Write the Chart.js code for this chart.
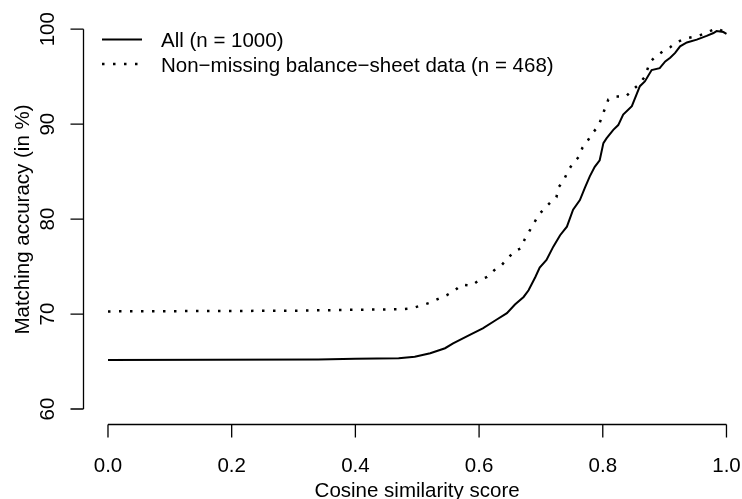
<!DOCTYPE html>
<html>
<head>
<meta charset="utf-8">
<script src="https://cdn.jsdelivr.net/npm/chart.js@4/dist/chart.umd.min.js"></script>
<style>
  html, body { margin: 0; padding: 0; background: #fff; }
  #wrap { width: 742px; height: 499px; }
</style>
</head>
<body>
<div id="wrap"><canvas id="myChart" width="742" height="499"></canvas></div>
<script>
// values
const allX = [0, 0.34, 0.40, 0.47, 0.496, 0.521, 0.545, 0.558, 0.585, 0.606, 0.628, 0.645, 0.658, 0.672, 0.680, 0.691, 0.698, 0.709, 0.720, 0.731, 0.742, 0.752, 0.763, 0.771, 0.779, 0.787, 0.795, 0.801, 0.806, 0.817, 0.825, 0.833, 0.847, 0.860, 0.868, 0.879, 0.892, 0.901, 0.909, 0.917, 0.925, 0.936, 0.952, 0.968, 0.979, 0.984, 0.995, 1.0];
const allY = [65.17, 65.22, 65.28, 65.34, 65.5, 65.87, 66.4, 66.9, 67.8, 68.5, 69.4, 70.1, 71.0, 71.8, 72.5, 73.9, 74.9, 75.7, 77.1, 78.3, 79.2, 81.0, 82.0, 83.3, 84.5, 85.5, 86.2, 88.0, 88.5, 89.4, 89.9, 91.0, 91.9, 94.0, 94.5, 95.7, 95.9, 96.6, 97.0, 97.5, 98.2, 98.6, 98.9, 99.3, 99.6, 99.8, 99.7, 99.5];

const nmX = [0, 0.30, 0.40, 0.472, 0.491, 0.506, 0.521, 0.534, 0.548, 0.561, 0.572, 0.588, 0.601, 0.613, 0.626, 0.637, 0.647, 0.657, 0.667, 0.674, 0.682, 0.689, 0.697, 0.707, 0.716, 0.725, 0.729, 0.737, 0.744, 0.752, 0.762, 0.767, 0.776, 0.784, 0.793, 0.809, 0.820, 0.837, 0.848, 0.857, 0.867, 0.877, 0.887, 0.898, 0.909, 0.919, 0.933, 0.955, 0.984, 1.0];
const nmY = [70.28, 70.35, 70.45, 70.5, 70.6, 70.9, 71.2, 71.6, 72.0, 72.5, 73.1, 73.0, 73.6, 73.9, 74.7, 75.2, 75.9, 76.6, 76.9, 77.9, 78.8, 79.6, 80.5, 81.2, 81.8, 82.3, 83.4, 84.1, 85.1, 85.9, 86.6, 87.5, 88.3, 89.1, 89.8, 92.6, 92.9, 92.9, 93.6, 94.1, 94.9, 96.6, 97.2, 97.7, 98.1, 98.6, 99.0, 99.3, 100.1, 99.6];

const seriesLabels = ['All (n = 1000)', 'Non\u2212missing balance\u2212sheet data (n = 468)'];
const xTicks = [0, 0.2, 0.4, 0.6, 0.8, 1.0];
const yTicks = [60, 70, 80, 90, 100];
const xTitle = 'Cosine similarity score';
const yTitle = 'Matching accuracy (in %)';

const FONT = '20.5px "Liberation Sans", Arial, sans-serif';
const DOTS = [2.5, 8.5];

function toPoints(xs, ys) {
    return xs.map((x, i) => ({ x: x, y: ys[i] }));
}

// R-style axes and legend, drawn through the chart's scales
const rAxes = {
    id: 'rAxes',
    afterDraw(chart) {
        const ctx = chart.ctx;
        const xs = chart.scales.x, ys = chart.scales.y;
        const area = chart.chartArea;
        ctx.save();
        ctx.strokeStyle = '#000';
        ctx.fillStyle = '#000';
        ctx.lineWidth = 1.3;
        ctx.font = FONT;

        // x axis
        const ay = area.bottom - 0.5;
        ctx.beginPath();
        ctx.moveTo(xs.getPixelForValue(xTicks[0]), ay);
        ctx.lineTo(xs.getPixelForValue(xTicks[xTicks.length - 1]), ay);
        xTicks.forEach(t => {
            const px = xs.getPixelForValue(t);
            ctx.moveTo(px, ay);
            ctx.lineTo(px, ay + 13);
        });
        ctx.stroke();
        ctx.textAlign = 'center';
        ctx.textBaseline = 'alphabetic';
        xTicks.forEach(t => {
            ctx.fillText(t.toFixed(1), xs.getPixelForValue(t), ay + 47);
        });
        ctx.fillText(xTitle, (area.left + xs.getPixelForValue(1.04)) / 2, 497);

        // y axis
        const ax = area.left + 0.5;
        ctx.beginPath();
        ctx.moveTo(ax, ys.getPixelForValue(yTicks[0]));
        ctx.lineTo(ax, ys.getPixelForValue(yTicks[yTicks.length - 1]));
        yTicks.forEach(t => {
            const py = ys.getPixelForValue(t);
            ctx.moveTo(ax, py);
            ctx.lineTo(ax - 13, py);
        });
        ctx.stroke();
        yTicks.forEach(t => {
            ctx.save();
            ctx.translate(53.5, ys.getPixelForValue(t));
            ctx.rotate(-Math.PI / 2);
            ctx.fillText(String(t), 0, 0);
            ctx.restore();
        });
        ctx.save();
        ctx.translate(28.5, (area.top + area.bottom) / 2);
        ctx.rotate(-Math.PI / 2);
        ctx.fillText(yTitle, 0, 0);
        ctx.restore();

        // legend
        ctx.textAlign = 'left';
        chart.data.datasets.forEach((ds, i) => {
            const ly = 39.5 + i * 24.5;
            ctx.save();
            ctx.lineWidth = ds.borderWidth;
            ctx.setLineDash(ds.borderDash || []);
            ctx.beginPath();
            ctx.moveTo(102, ly);
            ctx.lineTo(142, ly);
            ctx.stroke();
            ctx.restore();
            ctx.fillText(ds.label, 161, ly + 7.5);
        });
        ctx.restore();
    }
};

const chart = new Chart(document.getElementById('myChart').getContext('2d'), {
    type: 'line',
    data: {
        datasets: [
            {
                label: seriesLabels[0],
                data: toPoints(allX, allY),
                borderColor: '#000',
                borderWidth: 2,
                pointRadius: 0,
                tension: 0,
                fill: false
            },
            {
                label: seriesLabels[1],
                data: toPoints(nmX, nmY),
                borderColor: '#000',
                borderWidth: 2.5,
                borderDash: DOTS,
                borderCapStyle: 'butt',
                pointRadius: 0,
                tension: 0,
                fill: false
            }
        ]
    },
    options: {
        responsive: false,
        animation: false,
        layout: { padding: { left: 83, right: 0, top: 14, bottom: 74 } },
        plugins: { legend: { display: false }, tooltip: { enabled: false } },
        scales: {
            x: { type: 'linear', min: -0.0404, max: 1.0251, display: false },
            y: { type: 'linear', min: 58.315, max: 101.6, display: false }
        }
    },
    plugins: [rAxes]
});
</script>
</body>
</html>
